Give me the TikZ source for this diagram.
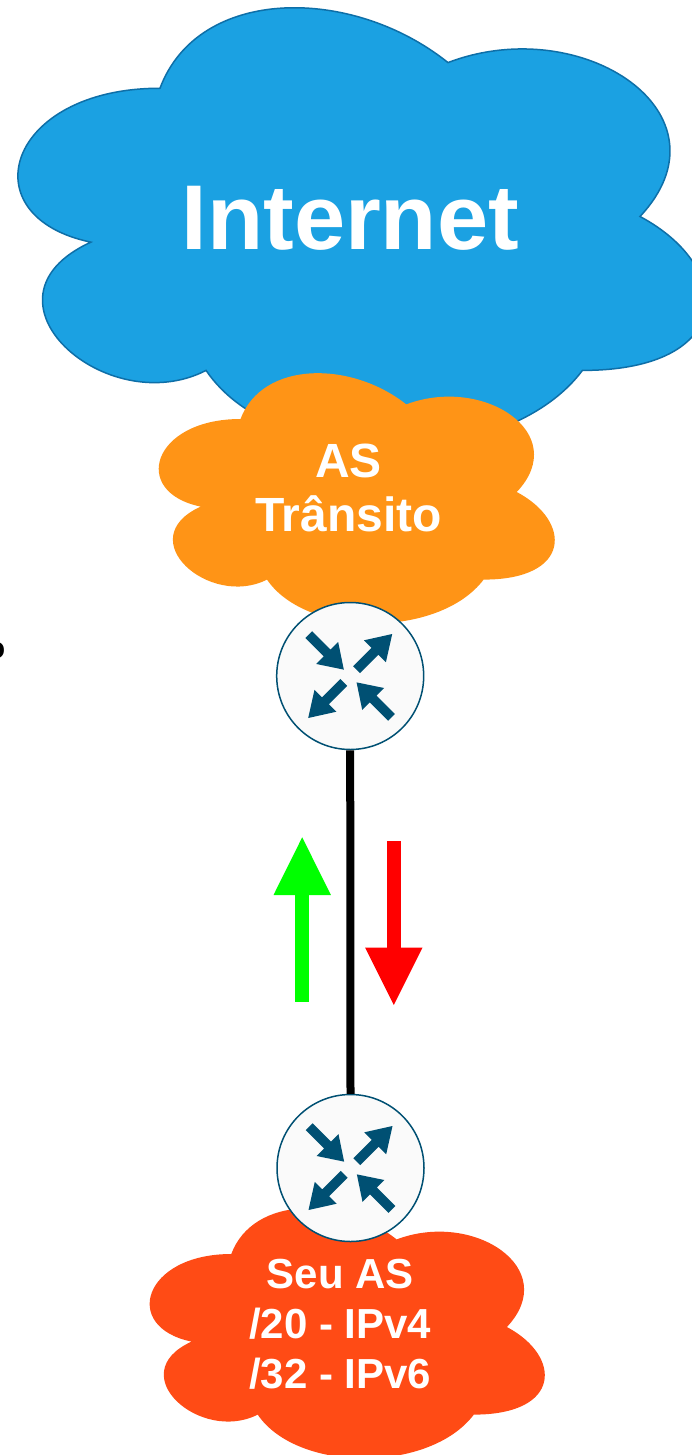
\documentclass[tikz,border=0pt]{standalone}
\usepackage{fontspec}
\setmainfont{Liberation Sans}
\usetikzlibrary{arrows.meta}
\definecolor{inetfill}{HTML}{1BA1E2}
\definecolor{inetline}{HTML}{0E6FA8}
\definecolor{transfill}{HTML}{FF9416}
\definecolor{seufill}{HTML}{FF4B15}
\definecolor{rtline}{HTML}{005073}
\definecolor{rtfill}{HTML}{FAFAFA}
\definecolor{upgreen}{HTML}{00FF00}
\definecolor{downred}{HTML}{FF0000}
% draw.io style cloud: #1 options, #2 x0, #3 y0, #4 width, #5 height (pixels, y down)
\newcommand\mxcloud[5]{%
  \begin{scope}[shift={(#2,#3)},x=#4pt,y=-#5pt]
    \path[#1] (0.25,0.25) .. controls (0.05,0.25) and (0,0.5) .. (0.16,0.55)
      .. controls (0,0.66) and (0.18,0.9) .. (0.31,0.8)
      .. controls (0.4,1) and (0.7,1) .. (0.8,0.8)
      .. controls (1,0.8) and (1,0.6) .. (0.875,0.5)
      .. controls (1,0.3) and (0.8,0.1) .. (0.625,0.2)
      .. controls (0.5,0.05) and (0.3,0.05) .. (0.25,0.25) -- cycle;
  \end{scope}}
% router icon arrows inside a router node #1
\newcommand\routericon[1]{%
  \begin{scope}[shift={(#1.center)}]
    \foreach \ang/\ta/\tb/\tc in {135/58.5/32.5/9, 315/58.5/32.5/9, 45/9/35/59.4, 225/9/35/59.4}{
      \fill[rtline,rotate=\ang] (\ta,-4.8) -- (\tb,-4.8) -- (\tb,-15.5) -- (\tc,0)
        -- (\tb,15.5) -- (\tb,4.8) -- (\ta,4.8) -- cycle;
    }
  \end{scope}}
\begin{document}
\begin{tikzpicture}[x=1pt,y=-1pt,
  router/.style={circle,draw=rtline,fill=rtfill,line width=1.5pt,minimum size=147pt,inner sep=0pt},
  cloudlabel/.style={text=white,align=center,inner sep=0pt,anchor=base},
  traffic/.style={line width=14.3pt}]
\useasboundingbox (0,0) rectangle (692,1455);
\fill[white] (0,0) rectangle (692,1455);
\clip (0,0) rectangle (692,1455);

% clouds (top)
\mxcloud{fill=inetfill,draw=inetline,line width=1.5pt}{-32}{-40}{768}{513}
\mxcloud{fill=transfill}{130}{346}{442}{292}

\node[cloudlabel,font=\fontsize{92}{110}\selectfont\bfseries] (inet) at (350.3,249.3) {Internet};
\node[cloudlabel,font=\fontsize{48}{54.4}\selectfont\bfseries] (trans) at (348.5,531.7) {AS\\Trânsito};

% partial text at the left edge
\node[anchor=base east,inner sep=0pt,font=\fontsize{30}{34}\selectfont\bfseries] (cut) at (5.5,658) {o};

% top router
\node[router] (r1) at (350.2,676) {};
\routericon{r1}

% bottom cloud and router
\mxcloud{fill=seufill}{121}{1181}{441}{292}
\node[router] (r2) at (350.5,1168) {};
\routericon{r2}

% link
\draw[line width=8pt] (r1.south) -- (r2.north);

% traffic arrows
\coordinate (g0) at (302.2,1001.7);
\coordinate (g1) at (302.2,837.3);
\coordinate (d0) at (393.8,841);
\coordinate (d1) at (393.8,1005);
\draw[traffic,upgreen,-{Triangle[width=57.4pt,length=57.7pt,line width=0pt]}] (g0) -- (g1);
\draw[traffic,downred,-{Triangle[width=57.4pt,length=57.3pt,line width=0pt]}] (d0) -- (d1);

\node[cloudlabel,font=\fontsize{42}{50}\selectfont\bfseries] (seu) at (340.2,1388.3) {Seu AS\\/20 - IPv4\\/32 - IPv6};
\end{tikzpicture}
\end{document}
